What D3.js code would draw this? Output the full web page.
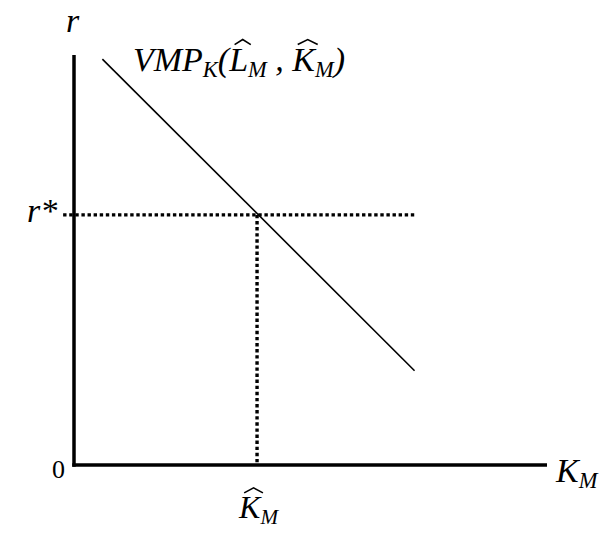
<!DOCTYPE html>
<html>
<head>
<meta charset="utf-8">
<script src="https://cdn.jsdelivr.net/npm/d3@7"></script>
<style>
  body { margin: 0; background: #fff; }
</style>
</head>
<body>
<svg id="chart" width="603" height="540" font-family="'Liberation Serif', 'Times New Roman', Times, serif"></svg>
<script>
// demand curve VMP_K and the equilibrium (data units, 0..10 on both axes)
const curve = [[0.6, 9.9], [7.2, 2.3]];
const rStar = 6.1;
const kHat = 3.87;
const hLineStart = -0.23;
const hLineEnd = 7.2;

const svg = d3.select("#chart"),
  margin = { top: 55, right: 56, bottom: 75, left: 74 },
  width = +svg.attr("width") - margin.left - margin.right,
  height = +svg.attr("height") - margin.top - margin.bottom;

const x = d3.scaleLinear().domain([0, 10]).range([margin.left, margin.left + width]);
const y = d3.scaleLinear().domain([0, 10]).range([margin.top + height, margin.top]);

// axes (plain thick lines, no ticks)
svg.append("line")
  .attr("x1", x(0)).attr("x2", x(0))
  .attr("y1", y(0) + 1.75).attr("y2", y(10))
  .attr("stroke", "#000").attr("stroke-width", 3.5);
svg.append("line")
  .attr("x1", x(0) - 1.75).attr("x2", x(10))
  .attr("y1", y(0)).attr("y2", y(0))
  .attr("stroke", "#000").attr("stroke-width", 3.5);

// dotted guides
svg.append("line")
  .attr("x1", x(hLineStart)).attr("x2", x(hLineEnd))
  .attr("y1", y(rStar)).attr("y2", y(rStar))
  .attr("stroke", "#000").attr("stroke-width", 3.4)
  .attr("stroke-dasharray", "3.4,2.7");
svg.append("line")
  .attr("x1", x(kHat)).attr("x2", x(kHat))
  .attr("y1", y(rStar)).attr("y2", y(0))
  .attr("stroke", "#000").attr("stroke-width", 3.4)
  .attr("stroke-dasharray", "3.4,2.7");

// demand line
svg.append("path")
  .datum(curve)
  .attr("d", d3.line().x((d) => x(d[0])).y((d) => y(d[1])))
  .attr("fill", "none")
  .attr("stroke", "#000")
  .attr("stroke-width", 1.6);

// label builder: pieces with optional subscript and hat
function label(px, py, size, pieces) {
  const t = svg.append("text")
    .attr("x", px).attr("y", py)
    .attr("font-style", "italic")
    .attr("font-size", size + "px");
  const hats = [];
  let idx = 0;
  pieces.forEach((p) => {
    const s = p.sub ? size * 0.66 : size;
    t.append("tspan")
      .attr("y", p.sub ? py + size * 0.18 : py)
      .attr("font-size", s + "px")
      .text(p.t);
    if (p.hat) hats.push({ i: idx, s: s });
    idx += p.t.length;
  });
  const node = t.node();
  hats.forEach((h) => {
    const ext = node.getExtentOfChar(h.i);
    const top = py - h.s * 0.66;
    const x0 = ext.x + h.s * 0.16, x1 = ext.x + ext.width + h.s * 0.08;
    const xm = (x0 + x1) / 2;
    svg.append("path")
      .attr("d", `M${x0},${top - 4} L${xm},${top - 9} L${x1},${top - 4}`)
      .attr("fill", "none")
      .attr("stroke", "#000")
      .attr("stroke-width", 1.6);
  });
}

label(x(0) - 8, 32, 34, [{ t: "r" }]);
label(27, y(rStar) + 7, 34, [{ t: "r*" }]);
label(133, 71, 34, [
  { t: "VMP" }, { t: "K", sub: true }, { t: "(" },
  { t: "L", hat: true }, { t: "M", sub: true }, { t: " , " },
  { t: "K", hat: true }, { t: "M", sub: true }, { t: ")" }
]);
label(x(10) + 9, y(0) + 17, 34, [{ t: "K" }, { t: "M", sub: true }]);
label(x(kHat) - 18, 518, 32, [{ t: "K", hat: true }, { t: "M", sub: true }]);

svg.append("text")
  .attr("x", 52).attr("y", y(0) + 13)
  .attr("font-size", "26px")
  .text("0");
</script>
</body>
</html>
